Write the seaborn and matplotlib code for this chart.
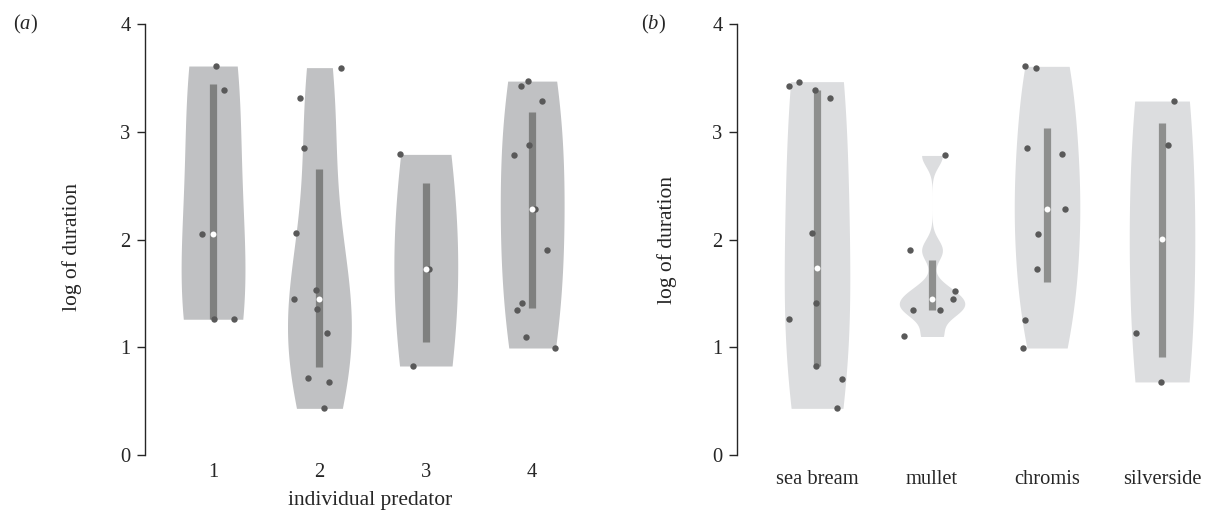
import numpy as np
import pandas as pd
import matplotlib
matplotlib.use("Agg")
import matplotlib.pyplot as plt
import seaborn as sns

# ---------------- data ----------------
predators = ["1", "2", "3", "4"]
pred_1 = [3.61, 3.39, 2.05, 1.26, 1.26]
pred_2 = [3.595, 3.31, 2.85, 2.057, 1.528, 1.448, 1.352, 1.135, 0.712, 0.678, 0.433]
pred_3 = [2.79, 1.73, 0.826]
pred_4 = [3.47, 3.425, 3.285, 2.874, 2.787, 2.28, 1.90, 1.414, 1.346, 1.098, 0.993]

prey = ["sea bream", "mullet", "chromis", "silverside"]
sea_bream = [3.465, 3.425, 3.39, 3.31, 2.06, 1.415, 1.26, 0.826, 0.71, 0.433]
mullet = [2.78, 1.90, 1.525, 1.445, 1.35, 1.35, 1.10]
chromis = [3.607, 3.595, 2.85, 2.79, 2.28, 2.05, 1.726, 1.256, 0.993]
silverside = [3.285, 2.874, 1.135, 0.678]

y_ticks = [0, 1, 2, 3, 4]
ylabel = "log of duration"
xlabel_a = "individual predator"

# ---------------- style ----------------
sns.set_style("ticks")
plt.rcParams["font.family"] = ["Liberation Serif", "DejaVu Serif"]
plt.rcParams["mathtext.fontset"] = "custom"
plt.rcParams["mathtext.rm"] = "Liberation Serif"
plt.rcParams["mathtext.it"] = "Liberation Serif:italic"
FS_TICK = 14.8
FS_LAB = 15.5
INK = "#262626"


def make_df(cats, groups, name):
    return pd.DataFrame({
        name: np.repeat(cats, [len(g) for g in groups]),
        "val": np.concatenate([np.asarray(g, float) for g in groups]),
    })


def ks_factor(v):
    """MATLAB ksdensity default bandwidth, expressed as a scott-style factor."""
    v = np.asarray(v, float)
    n = len(v)
    sig = np.median(np.abs(v - np.median(v))) / 0.6745
    if sig <= 0:
        sig = v.max() - v.min()
    u = sig * (4.0 / (3.0 * n)) ** 0.2
    return u / np.std(v, ddof=1)


def hazen_iqr(v):
    q = np.percentile(np.asarray(v, float), [25, 75], method="hazen")
    return q[0], q[1]


def draw_panel(ax, df, cat, order, width, fill, bar, seed):
    for c in order:
        sub = df[df[cat] == c]
        sns.violinplot(data=sub, x=cat, y="val", order=order, cut=0, inner=None,
                       density_norm="width", width=width,
                       bw_method=ks_factor(sub["val"]), color=fill,
                       saturation=1, linewidth=0, ax=ax)
    # IQR bar + median dot
    sns.pointplot(data=df, x=cat, y="val", order=order, estimator="median",
                  errorbar=hazen_iqr, color="white", marker="o", markersize=4.3,
                  markeredgewidth=0, linestyle="none", zorder=4,
                  err_kws={"color": bar, "linewidth": 5.2, "zorder": 2,
                           "solid_capstyle": "butt"},
                  ax=ax)
    np.random.seed(seed)
    sns.stripplot(data=df, x=cat, y="val", order=order, jitter=0.25,
                  color="#595959", size=4.6, linewidth=0, zorder=3, ax=ax)


fig = plt.figure(figsize=(12.06, 5.16), dpi=100)
axA = fig.add_axes([0.1202, 0.1182, 0.374, 0.8353])
axB = fig.add_axes([0.6111, 0.1182, 0.3839, 0.8353])

dfA = make_df(predators, [pred_1, pred_2, pred_3, pred_4], "predator")
dfB = make_df(prey, [sea_bream, mullet, chromis, silverside], "prey")

draw_panel(axA, dfA, "predator", predators, 0.6, "#c0c1c3", "#7f807f", 3)
draw_panel(axB, dfB, "prey", prey, 0.57, "#dcdddf", "#8e8f8e", 11)

for ax, xl, lx, ly, xpad in [(axA, (-0.64, 3.6), -0.140, 0.483, 5.5),
                             (axB, (-0.696, 3.33), -0.130, 0.5, 11)]:
    ax.set_xlim(*xl)
    ax.set_ylim(0, 4)
    ax.set_yticks(y_ticks)
    ax.set_yticklabels([str(t) for t in y_ticks])
    sns.despine(ax=ax, bottom=True)
    ax.spines["left"].set_color(INK)
    ax.spines["left"].set_linewidth(1.0)
    ax.tick_params(axis="y", length=6, width=1.0, color=INK, pad=4.5,
                   labelsize=FS_TICK, labelcolor=INK)
    ax.tick_params(axis="x", length=0, pad=xpad, labelsize=FS_TICK, labelcolor=INK)
    ax.set_ylabel(ylabel, fontsize=FS_LAB, color=INK)
    ax.yaxis.set_label_coords(lx, ly)
    ax.set_xlabel("")

axA.set_xlabel(xlabel_a, fontsize=FS_LAB, color=INK, labelpad=7)

fig.text(0.011, 0.9535, r"($\it{a}$)", fontsize=FS_TICK, color=INK, ha="left", va="center")
fig.text(0.5315, 0.9535, r"($\it{b}$)", fontsize=FS_TICK, color=INK, ha="left", va="center")

fig.savefig("out.png", dpi=100)
